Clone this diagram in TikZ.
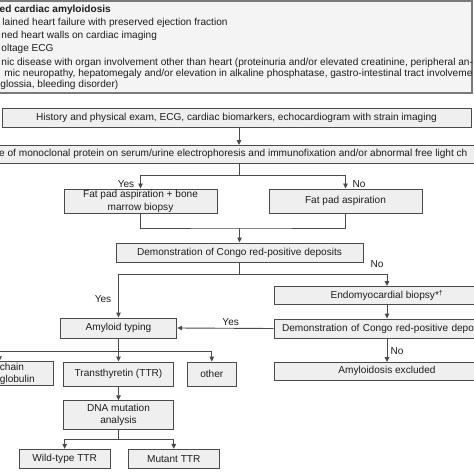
\documentclass[tikz,border=0pt]{standalone}
\usepackage{fontspec}
\setmainfont{Liberation Sans}
\usetikzlibrary{arrows.meta}
\definecolor{boxfill}{HTML}{EFEFEF}
\definecolor{topfill}{HTML}{F4F4F4}
\definecolor{boxline}{HTML}{4A4A4A}
\definecolor{frameline}{HTML}{7A7A7A}
\definecolor{txt}{HTML}{1E1E1E}
\begin{document}
\begin{tikzpicture}[x=1pt,y=-1pt,
  bx/.style={draw=boxline,fill=boxfill,line width=0.9pt,inner sep=0pt,font=\fontsize{10.1}{12.5}\selectfont,text=txt,align=center},
  arr/.style={draw=boxline,line width=0.9pt,-{Triangle[length=5pt,width=4.5pt]}},
  ln/.style={draw=boxline,line width=0.9pt},
  lbl/.style={font=\fontsize{10.1}{12}\selectfont,text=txt,inner sep=0pt},
  tl/.style={anchor=west,inner sep=0pt,font=\fontsize{10.1}{12}\selectfont,text=txt}]
\useasboundingbox (0,0) rectangle (474,474);
\clip (0,0) rectangle (474,474);
\fill[white] (0,0) rectangle (474,474);
% top frame
\draw[frameline,fill=topfill,line width=1.6pt] (-5,1) rectangle (472,93);
\node[tl,font=\bfseries\fontsize{10.1}{12}\selectfont] (t1) at (-0.5,10) {ed cardiac amyloidosis};
\node[tl] (t2) at (2.2,23) {lained heart failure with preserved ejection fraction};
\node[tl] (t3) at (1.2,36) {ned heart walls on cardiac imaging};
\node[tl] (t4) at (1.2,49) {oltage ECG};
\node[tl] (t5) at (1.2,62.5) {nic disease with organ involvement other than heart (proteinuria and/or elevated creatinine, peripheral an-};
\node[tl] (t6) at (4.2,74) {mic neuropathy, hepatomegaly and/or elevation in alkaline phosphatase, gastro-intestinal tract involveme};
\node[tl] (t7) at (0.2,85) {glossia, bleeding disorder)};
% boxes
\node[bx,minimum width=469pt,minimum height=19pt] (hist) at (236.5,117.5) {History and physical exam, ECG, cardiac biomarkers, echocardiogram with strain imaging};
\draw[ln,fill=boxfill] (-5,145) rectangle (480,163.5);
\node[tl] (mono) at (-1,154.3) {e of monoclonal protein on serum/urine electrophoresis and immunofixation and/or abnormal free light ch};
\node[bx,minimum width=153pt,minimum height=24.5pt] (fat1) at (140.5,201.2) {Fat pad aspiration + bone\\marrow biopsy};
\node[bx,minimum width=153pt,minimum height=24.5pt] (fat2) at (345.5,201.2) {Fat pad aspiration};
\node[bx,minimum width=247pt,minimum height=19pt] (congo1) at (239.5,252.5) {Demonstration of Congo red-positive deposits};
\node[bx,minimum width=226pt,minimum height=18pt] (endo) at (387,295.5) {Endomyocardial biopsy*\textsuperscript{\dag}};
\node[bx,minimum width=226pt,minimum height=19pt,text width=210pt,align=left] (congo2) at (387,328.5) {Demonstration of Congo red-positive depo};
\node[bx,minimum width=226pt,minimum height=17.5pt] (excl) at (387,371.2) {Amyloidosis excluded};
\node[bx,minimum width=116.5pt,minimum height=20pt] (typing) at (118.5,328) {Amyloid typing};
\node[bx,minimum width=107pt,minimum height=24pt] (chain) at (-0.5,373.7) {};
\node[tl] (chaint) at (-0.3,367.3) {chain};
\node[tl] (globt) at (-0.3,379.8) {globulin};
\node[bx,minimum width=109.3pt,minimum height=24pt] (ttr) at (118.5,374) {Transthyretin (TTR)};
\node[bx,minimum width=48.3pt,minimum height=24pt] (other) at (211.8,374) {other};
\node[bx,minimum width=109.3pt,minimum height=28.6pt] (dna) at (118.5,415) {DNA mutation\\analysis};
\node[bx,minimum width=90.7pt,minimum height=19pt] (wild) at (64.7,458.8) {Wild-type TTR};
\node[bx,minimum width=91pt,minimum height=19pt] (mutant) at (173.8,458.8) {Mutant TTR};
% connectors
\coordinate (cx) at (239,0);
\draw[arr] (hist.south -| cx) -- (cx |- 145,145);
\coordinate (j1) at (239,175.7);
\draw[ln] (239,163.5) -- (j1);
\draw[arr] (j1) -| (fat1.north);
\draw[arr] (j1) -| (fat2.north);
\coordinate (j2) at (239.5,228);
\draw[ln] (fat1.south) |- (j2) -| (fat2.south);
\draw[arr] (j2) -- (congo1.north);
\coordinate (j3) at (239.5,274);
\draw[ln] (congo1.south) -- (j3);
\draw[arr] (j3) -| (typing.north);
\draw[arr] (j3) -| (endo.north);
\draw[arr] (endo.south) -- (congo2.north);
\draw[arr] (congo2.south) -- (excl.north);
\draw[arr] (congo2.west) -- (typing.east);
\coordinate (j4) at (118.5,351);
\draw[arr] (typing.south) -- (ttr.north);
\draw[arr] (j4) -| (chain.north);
\draw[arr] (j4) -| (other.north);
\draw[arr] (ttr.south) -- (dna.north);
\coordinate (j5) at (118.5,439.3);
\draw[ln] (dna.south) -- (j5);
\draw[arr] (j5) -| (wild.north);
\draw[arr] (j5) -| (mutant.north);
% labels
\node[lbl] (l1) at (126,184.5) {Yes};
\node[lbl] (l2) at (359,184.5) {No};
\node[lbl] (l3) at (377,264) {No};
\node[lbl] (l4) at (103,299) {Yes};
\node[lbl] (l5) at (230.7,322) {Yes};
\node[lbl] (l6) at (397,350.7) {No};
\end{tikzpicture}
\end{document}
